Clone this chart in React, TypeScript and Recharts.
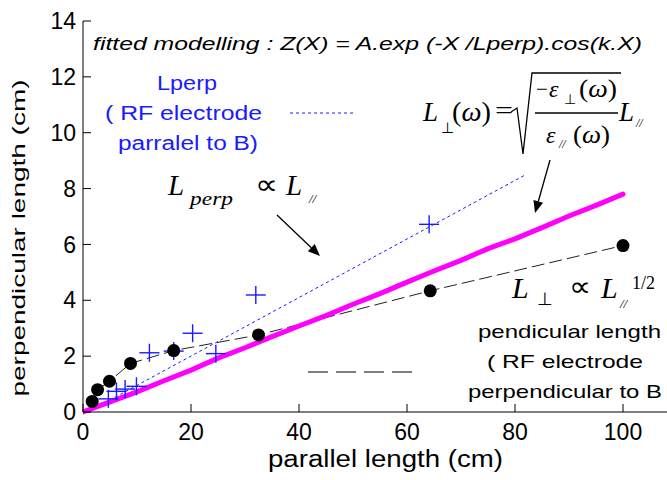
import { ComposedChart, Line, Scatter, XAxis, YAxis } from 'recharts';

// perpendicular length vs parallel length, RF electrode perpendicular to B (black dots)
const perpElecLength = [1.7, 2.7, 4.9, 8.8, 16.8, 32.5, 64.3, 100];
const perpElecWidth = [0.38, 0.8, 1.1, 1.74, 2.2, 2.76, 4.34, 5.96];

// RF electrode parallel to B (blue crosses)
const paraElecLength = [4.7, 6.2, 7.8, 9.9, 12.3, 16.8, 20.3, 24.6, 32.0, 64.1];
const paraElecWidth = [0.47, 0.74, 0.82, 0.92, 2.12, 2.18, 2.82, 2.09, 4.19, 6.72];

// linear fit of the crosses (blue dotted)
const paraFitLength = [3, 82];
const paraFitWidth = [0.22, 8.5];

// dielectric model curve (magenta)
const modelLength = [0, 5, 10, 15, 20, 25, 30, 35, 40, 45, 50, 55, 60, 65, 70, 75, 80, 85, 90, 95, 100];
const modelWidth = [0, 0.36, 0.72, 1.12, 1.5, 1.93, 2.3, 2.7, 3.08, 3.45, 3.86, 4.24, 4.65, 5.05, 5.43, 5.85, 6.2, 6.6, 7.02, 7.4, 7.8];

const xTicks = [0, 20, 40, 60, 80, 100];
const yTicks = [0, 2, 4, 6, 8, 10, 12, 14];

const toPoints = (xs: number[], ys: number[]) => xs.map((x, i) => ({ x, y: ys[i] }));

const SANS = '"Liberation Sans", Arial, sans-serif';
const SERIF = '"Liberation Serif", "Times New Roman", serif';
const BLUE = '#1a1aff';

const Cross = (props: any) => {
  const { cx, cy } = props;
  return (
    <g stroke={BLUE} strokeWidth={1.4}>
      <line x1={cx - 10} y1={cy} x2={cx + 10} y2={cy} />
      <line x1={cx} y1={cy - 9} x2={cx} y2={cy + 9} />
    </g>
  );
};

const Dot = (props: any) => <circle cx={props.cx} cy={props.cy} r={6.5} fill="#000" />;

interface TxtProps {
  x: number;
  y: number;
  size: number;
  w?: number;
  fill?: string;
  italic?: boolean;
  family?: string;
  anchor?: 'start' | 'middle' | 'end';
  transform?: string;
  children: React.ReactNode;
}

function Txt({ x, y, size, w, fill = '#000', italic, family = SANS, anchor = 'start', transform, children }: TxtProps) {
  return (
    <text
      x={x}
      y={y}
      fontSize={size}
      fontFamily={family}
      fontStyle={italic ? 'italic' : 'normal'}
      fill={fill}
      textAnchor={anchor}
      transform={transform}
      textLength={w}
      lengthAdjust={w ? 'spacingAndGlyphs' : undefined}
    >
      {children}
    </text>
  );
}

function Arrow({ x1, y1, x2, y2 }: { x1: number; y1: number; x2: number; y2: number }) {
  const a = Math.atan2(y2 - y1, x2 - x1);
  const len = 12;
  const half = 5;
  const bx = x2 - len * Math.cos(a);
  const by = y2 - len * Math.sin(a);
  const px = -Math.sin(a) * half;
  const py = Math.cos(a) * half;
  return (
    <g>
      <line x1={x1} y1={y1} x2={bx} y2={by} stroke="#000" strokeWidth={1.3} />
      <polygon points={`${x2},${y2} ${bx + px},${by + py} ${bx - px},${by - py}`} fill="#000" />
    </g>
  );
}

function Annotations() {
  return (
    <svg width={667} height={480} style={{ position: 'absolute', left: 0, top: 0, pointerEvents: 'none' }}>
      {/* axis titles */}
      <Txt x={268} y={467} size={23} w={235}>parallel length (cm)</Txt>
      <Txt x={25} y={238} size={19} w={317} anchor="middle" transform="rotate(-90, 25, 238)">
        perpendicular length (cm)
      </Txt>

      <Txt x={93} y={50} size={18} w={549} italic>
        fitted modelling : Z(X) = A.exp (-X /Lperp).cos(k.X)
      </Txt>

      {/* blue legend block */}
      <Txt x={187} y={90} size={20} w={60} fill={BLUE} anchor="middle">Lperp</Txt>
      <Txt x={105} y={120} size={20} w={157} fill={BLUE}>( RF electrode</Txt>
      <Txt x={118} y={150} size={20} w={140} fill={BLUE}>parralel to B)</Txt>
      <line x1={290} y1={113} x2={355} y2={113} stroke={BLUE} strokeWidth={1} strokeDasharray="3 3" />

      {/* black legend block */}
      <Txt x={478} y={338} size={19} w={183}>pendicular length</Txt>
      <Txt x={487} y={368} size={19} w={156}>( RF electrode</Txt>
      <Txt x={468} y={398} size={19} w={194}>perpendicular to B</Txt>
      <line x1={308} y1={372} x2={412} y2={372} stroke="#000" strokeWidth={1} strokeDasharray="20 8" />

      {/* L_perp ∝ L// */}
      <Txt x={168} y={195} size={29} family={SERIF} italic>L</Txt>
      <Txt x={190} y={205} size={18} family={SERIF} italic w={43}>perp</Txt>
      <Txt x={255} y={194} size={28} family={SERIF} w={23}>∝</Txt>
      <Txt x={286} y={195} size={29} family={SERIF} italic>L</Txt>
      <Txt x={309} y={203} size={13} family={SERIF} italic>//</Txt>
      <Arrow x1={277} y1={215} x2={320} y2={256} />

      {/* L⊥(ω) = sqrt(-ε⊥(ω)/ε//(ω)) L// */}
      <Txt x={423} y={121} size={27} family={SERIF} italic>L</Txt>
      <Txt x={441} y={133} size={15} family={SERIF}>⊥</Txt>
      <Txt x={452} y={121} size={27} family={SERIF} w={39}>
        (<tspan fontStyle="italic">ω</tspan>)
      </Txt>
      <Txt x={495} y={119} size={26} family={SERIF} w={18}>=</Txt>
      <path d="M511,112 L517,108 L523,154 L532,73 L621,73" fill="none" stroke="#000" strokeWidth={1.3} />
      <Txt x={536} y={97} size={24} family={SERIF} w={12}>−</Txt>
      <Txt x={549} y={97} size={24} family={SERIF} italic>ε</Txt>
      <Txt x={564} y={104} size={14} family={SERIF}>⊥</Txt>
      <Txt x={579} y={97} size={26} family={SERIF} w={38}>
        (<tspan fontStyle="italic">ω</tspan>)
      </Txt>
      <line x1={535} y1={113} x2={618} y2={113} stroke="#000" strokeWidth={1.3} />
      <Txt x={546} y={143} size={24} family={SERIF} italic>ε</Txt>
      <Txt x={559} y={148} size={12} family={SERIF} italic>//</Txt>
      <Txt x={573} y={143} size={26} family={SERIF} w={37}>
        (<tspan fontStyle="italic">ω</tspan>)
      </Txt>
      <Txt x={619} y={121} size={27} family={SERIF} italic>L</Txt>
      <Txt x={636} y={127} size={12} family={SERIF} italic>//</Txt>
      <Arrow x1={550} y1={160} x2={535} y2={213} />

      {/* L⊥ ∝ L//^(1/2) */}
      <Txt x={512} y={298} size={30} family={SERIF} italic>L</Txt>
      <Txt x={537} y={305} size={18} family={SERIF}>⊥</Txt>
      <Txt x={569} y={296} size={28} family={SERIF} w={22}>∝</Txt>
      <Txt x={601} y={298} size={30} family={SERIF} italic>L</Txt>
      <Txt x={620} y={308} size={13} family={SERIF} italic>//</Txt>
      <Txt x={632} y={289} size={18} family={SERIF} w={23}>1/2</Txt>
    </svg>
  );
}

export default function App() {
  const tickStyle = { fill: '#000', fontSize: 23, fontFamily: SANS };
  return (
    <div style={{ position: 'absolute', left: 0, top: 0, width: 667, height: 480, overflow: 'hidden', background: '#fff' }}>
      <ComposedChart width={690} height={480} margin={{ top: 21, right: 13, bottom: 0, left: 0 }}>
        <XAxis
          type="number"
          dataKey="x"
          domain={[0, 110]}
          ticks={xTicks}
          allowDataOverflow
          height={68}
          stroke="#000"
          tick={tickStyle}
          tickSize={-8}
          tickMargin={20}
        />
        <XAxis
          xAxisId="top"
          orientation="top"
          type="number"
          dataKey="x"
          domain={[0, 110]}
          ticks={xTicks}
          height={0}
          stroke="#000"
          tick={false}
          tickSize={-7}
        />
        <YAxis
          type="number"
          dataKey="y"
          domain={[0, 14]}
          ticks={yTicks}
          width={83}
          stroke="#000"
          tick={tickStyle}
          tickSize={-8}
          tickMargin={15}
        />
        <Line
          data={toPoints(paraFitLength, paraFitWidth)}
          dataKey="y"
          stroke={BLUE}
          strokeWidth={1}
          strokeDasharray="3 3"
          dot={false}
          isAnimationActive={false}
        />
        <Line
          data={toPoints(perpElecLength, perpElecWidth)}
          dataKey="y"
          stroke="#222"
          strokeWidth={1}
          strokeDasharray="13 5"
          dot={false}
          isAnimationActive={false}
        />
        <Line
          data={toPoints(modelLength, modelWidth)}
          dataKey="y"
          stroke="#ff00ff"
          strokeWidth={5}
          strokeLinecap="round"
          dot={false}
          isAnimationActive={false}
        />
        <Scatter data={toPoints(paraElecLength, paraElecWidth)} dataKey="y" shape={Cross} isAnimationActive={false} />
        <Scatter data={toPoints(perpElecLength, perpElecWidth)} dataKey="y" shape={Dot} isAnimationActive={false} />
      </ComposedChart>
      <Annotations />
    </div>
  );
}
